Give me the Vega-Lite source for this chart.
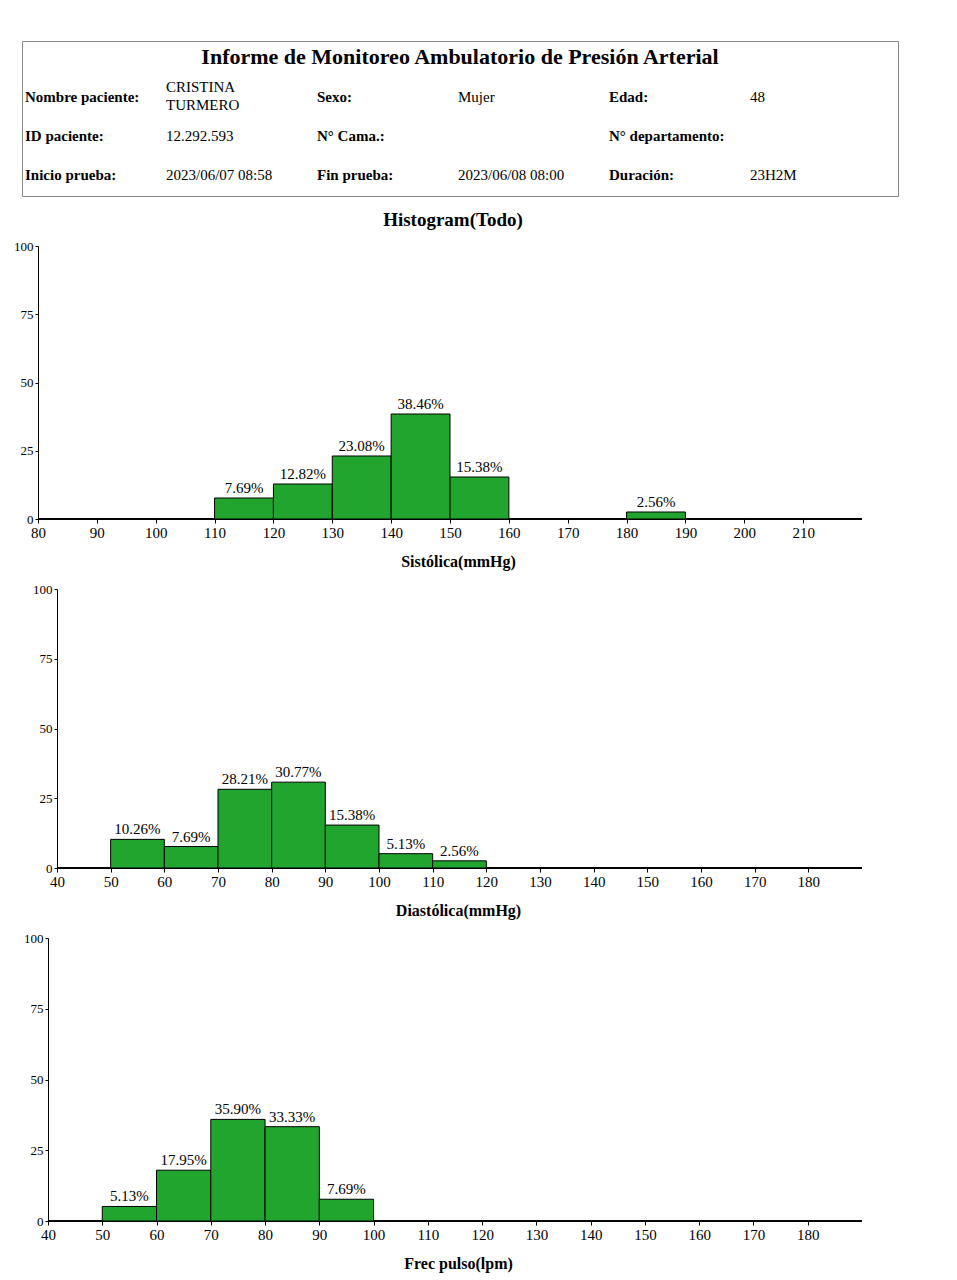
{
  "$schema": "https://vega.github.io/schema/vega-lite/v6.json",
  "background": "white",
  "autosize": {"type": "pad"},
  "padding": {"left": 13, "top": 40, "right": 5, "bottom": 5},
  "spacing": 14,
  "bounds": "full",
  "config": {
    "font": "Liberation Serif",
    "view": {"stroke": null},
    "axis": {"domainColor": "#000", "tickColor": "#000", "labelColor": "#000", "titleColor": "#000", "grid": false, "labelFont": "Liberation Serif", "titleFont": "Liberation Serif", "labelOverlap": false, "labelFlush": false},
    "axisX": {"tickSize": 4, "labelFontSize": 15, "labelPadding": 2, "titleFontSize": 16, "titleFontWeight": "bold", "titlePadding": 13, "domain": false, "titleX": 436},
    "axisY": {"tickSize": 3, "labelFontSize": 13, "labelPadding": 2},
    "title": {"font": "Liberation Serif", "color": "#000"},
    "text": {"font": "Liberation Serif", "color": "#000"}
  },
  "vconcat": [
    {
      "width": 876,
      "height": 155,
      "view": {"stroke": "#888", "strokeWidth": 1},
      "title": {"text": "Informe de Monitoreo Ambulatorio de Presión Arterial", "fontSize": 22, "fontWeight": "bold", "offset": -28, "frame": "group", "anchor": "middle"},
      "data": {"values": [
        {"kind": "label", "row": 1, "col": 0, "text": "Nombre paciente:"},
        {"kind": "multi", "row": 1, "col": 1, "text": "CRISTINA\nTURMERO"},
        {"kind": "label", "row": 1, "col": 2, "text": "Sexo:"},
        {"kind": "value", "row": 1, "col": 3, "text": "Mujer"},
        {"kind": "label", "row": 1, "col": 4, "text": "Edad:"},
        {"kind": "value", "row": 1, "col": 5, "text": "48"},
        {"kind": "label", "row": 2, "col": 0, "text": "ID paciente:"},
        {"kind": "value", "row": 2, "col": 1, "text": "12.292.593"},
        {"kind": "label", "row": 2, "col": 2, "text": "N° Cama.:"},
        {"kind": "label", "row": 2, "col": 4, "text": "N° departamento:"},
        {"kind": "label", "row": 3, "col": 0, "text": "Inicio prueba:"},
        {"kind": "value", "row": 3, "col": 1, "text": "2023/06/07 08:58"},
        {"kind": "label", "row": 3, "col": 2, "text": "Fin prueba:"},
        {"kind": "value", "row": 3, "col": 3, "text": "2023/06/08 08:00"},
        {"kind": "label", "row": 3, "col": 4, "text": "Duración:"},
        {"kind": "value", "row": 3, "col": 5, "text": "23H2M"}
      ]},
      "encoding": {
        "x": {"field": "col", "type": "ordinal", "bandPosition": 0, "scale": {"type": "band", "paddingInner": 0, "paddingOuter": 0, "domain": [0, 1, 2, 3, 4, 5]}, "axis": null},
        "y": {"field": "row", "type": "ordinal", "scale": {"domain": [0, 1, 2, 3]}, "axis": null},
        "text": {"field": "text"}
      },
      "layer": [
        {"transform": [{"filter": "datum.kind == 'label'"}], "mark": {"type": "text", "align": "left", "baseline": "middle", "fontSize": 15, "fontWeight": "bold", "dx": 3, "dy": -2}},
        {"transform": [{"filter": "datum.kind == 'value'"}], "mark": {"type": "text", "align": "left", "baseline": "middle", "fontSize": 15, "dx": -2, "dy": -2}},
        {"transform": [{"filter": "datum.kind == 'multi'"}], "mark": {"type": "text", "align": "left", "baseline": "middle", "fontSize": 15, "dx": -2, "dy": -12, "lineBreak": "\n", "lineHeight": 18}}
      ]
    },
    {
      "width": 840,
      "height": 273,
      "title": {"text": "Histogram(Todo)", "fontSize": 19, "fontWeight": "bold", "frame": "group", "offset": 10, "anchor": "middle", "dx": 11},
      "data": {"values": [
        {"lo": 110, "hi": 120, "pct": 7.69},
        {"lo": 120, "hi": 130, "pct": 12.82},
        {"lo": 130, "hi": 140, "pct": 23.08},
        {"lo": 140, "hi": 150, "pct": 38.46},
        {"lo": 150, "hi": 160, "pct": 15.38},
        {"lo": 180, "hi": 190, "pct": 2.56}
      ]},
      "transform": [
        {"calculate": "(datum.lo + datum.hi) / 2", "as": "mid"},
        {"calculate": "format(datum.pct, '.2f') + '%'", "as": "label"}
      ],
      "layer": [
        {
          "mark": {"type": "rule", "color": "#000", "strokeWidth": 1},
          "encoding": {
            "x": {"datum": 80, "type": "quantitative"},
            "x2": {"datum": 220},
            "y": {"datum": 0, "type": "quantitative"}
          }
        },
        {
          "mark": {"type": "rect", "fill": "#22a52e", "stroke": "#000", "strokeWidth": 1},
          "encoding": {
            "x": {"field": "lo", "type": "quantitative", "scale": {"domain": [77.28, 220], "nice": false, "zero": false}, "axis": {"title": "Sistólica(mmHg)", "values": [80, 90, 100, 110, 120, 130, 140, 150, 160, 170, 180, 190, 200, 210]}},
            "x2": {"field": "hi"},
            "y": {"field": "pct", "type": "quantitative", "scale": {"domain": [0, 100], "nice": false}, "axis": {"title": null, "values": [0, 25, 50, 75, 100], "offset": -16}},
            "y2": {"datum": 0}
          }
        },
        {
          "mark": {"type": "text", "baseline": "bottom", "dy": -2, "fontSize": 15},
          "encoding": {
            "x": {"field": "mid", "type": "quantitative"},
            "y": {"field": "pct", "type": "quantitative"},
            "text": {"field": "label"}
          }
        }
      ]
    },
    {
      "width": 840,
      "height": 279,
      "data": {"values": [
        {"lo": 50, "hi": 60, "pct": 10.26},
        {"lo": 60, "hi": 70, "pct": 7.69},
        {"lo": 70, "hi": 80, "pct": 28.21},
        {"lo": 80, "hi": 90, "pct": 30.77},
        {"lo": 90, "hi": 100, "pct": 15.38},
        {"lo": 100, "hi": 110, "pct": 5.13},
        {"lo": 110, "hi": 120, "pct": 2.56}
      ]},
      "transform": [
        {"calculate": "(datum.lo + datum.hi) / 2", "as": "mid"},
        {"calculate": "format(datum.pct, '.2f') + '%'", "as": "label"}
      ],
      "layer": [
        {
          "mark": {"type": "rule", "color": "#000", "strokeWidth": 1},
          "encoding": {
            "x": {"datum": 40, "type": "quantitative"},
            "x2": {"datum": 190},
            "y": {"datum": 0, "type": "quantitative"}
          }
        },
        {
          "mark": {"type": "rect", "fill": "#22a52e", "stroke": "#000", "strokeWidth": 1},
          "encoding": {
            "x": {"field": "lo", "type": "quantitative", "scale": {"domain": [33.48, 190], "nice": false, "zero": false}, "axis": {"title": "Diastólica(mmHg)", "values": [40, 50, 60, 70, 80, 90, 100, 110, 120, 130, 140, 150, 160, 170, 180]}},
            "x2": {"field": "hi"},
            "y": {"field": "pct", "type": "quantitative", "scale": {"domain": [0, 100], "nice": false}, "axis": {"title": null, "values": [0, 25, 50, 75, 100], "offset": -35}},
            "y2": {"datum": 0}
          }
        },
        {
          "mark": {"type": "text", "baseline": "bottom", "dy": -2, "fontSize": 15},
          "encoding": {
            "x": {"field": "mid", "type": "quantitative"},
            "y": {"field": "pct", "type": "quantitative"},
            "text": {"field": "label"}
          }
        }
      ]
    },
    {
      "width": 840,
      "height": 283,
      "data": {"values": [
        {"lo": 50, "hi": 60, "pct": 5.13},
        {"lo": 60, "hi": 70, "pct": 17.95},
        {"lo": 70, "hi": 80, "pct": 35.90},
        {"lo": 80, "hi": 90, "pct": 33.33},
        {"lo": 90, "hi": 100, "pct": 7.69}
      ]},
      "transform": [
        {"calculate": "(datum.lo + datum.hi) / 2", "as": "mid"},
        {"calculate": "format(datum.pct, '.2f') + '%'", "as": "label"}
      ],
      "layer": [
        {
          "mark": {"type": "rule", "color": "#000", "strokeWidth": 1},
          "encoding": {
            "x": {"datum": 40, "type": "quantitative"},
            "x2": {"datum": 190},
            "y": {"datum": 0, "type": "quantitative"}
          }
        },
        {
          "mark": {"type": "rect", "fill": "#22a52e", "stroke": "#000", "strokeWidth": 1},
          "encoding": {
            "x": {"field": "lo", "type": "quantitative", "scale": {"domain": [35.21, 190], "nice": false, "zero": false}, "axis": {"title": "Frec pulso(lpm)", "values": [40, 50, 60, 70, 80, 90, 100, 110, 120, 130, 140, 150, 160, 170, 180]}},
            "x2": {"field": "hi"},
            "y": {"field": "pct", "type": "quantitative", "scale": {"domain": [0, 100], "nice": false}, "axis": {"title": null, "values": [0, 25, 50, 75, 100], "offset": -26}},
            "y2": {"datum": 0}
          }
        },
        {
          "mark": {"type": "text", "baseline": "bottom", "dy": -2, "fontSize": 15},
          "encoding": {
            "x": {"field": "mid", "type": "quantitative"},
            "y": {"field": "pct", "type": "quantitative"},
            "text": {"field": "label"}
          }
        }
      ]
    }
  ]
}
